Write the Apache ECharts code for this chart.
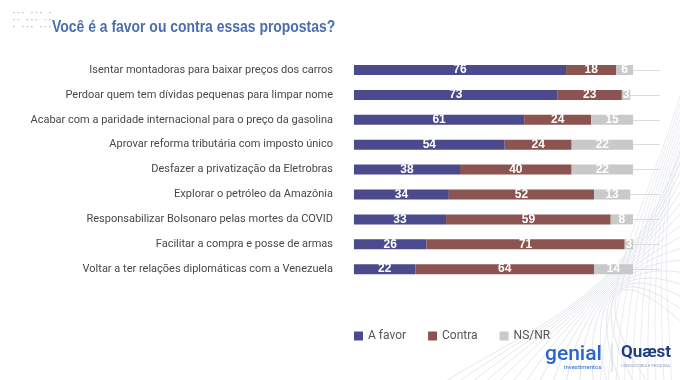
<!DOCTYPE html>
<html><head><meta charset="utf-8">
<script src="https://cdn.jsdelivr.net/npm/echarts@6/dist/echarts.min.js"></script>
<style>html,body{margin:0;padding:0;background:#fff}#c{width:680px;height:380px}</style>
</head><body><div id="c"></div>
<script>
const categories = [
  "Isentar montadoras para baixar preços dos carros",
  "Perdoar quem tem dívidas pequenas para limpar nome",
  "Acabar com a paridade internacional para o preço da gasolina",
  "Aprovar reforma tributária com imposto único",
  "Desfazer a privatização da Eletrobras",
  "Explorar o petróleo da Amazônia",
  "Responsabilizar Bolsonaro pelas mortes da COVID",
  "Facilitar a compra e posse de armas",
  "Voltar a ter relações diplomáticas com a Venezuela"
];
const aFavor = [76, 73, 61, 54, 38, 34, 33, 26, 22];
const contra = [18, 23, 24, 24, 40, 52, 59, 71, 64];
const nsnr   = [6, 3, 15, 22, 22, 13, 8, 3, 14];
const seriesNames = ["A favor", "Contra", "NS/NR"];
const colors = ["#4b4a8d", "#8b5450", "#c9c9c9"];
const titleText = 'Você é a favor ou contra essas propostas?';

const chart = echarts.init(document.getElementById('c'), null, {renderer: 'canvas'});
const lbl = {show: true, position: 'inside', color: '#fff', fontWeight: 'bold', fontSize: 12, fontFamily: '"Liberation Sans", Arial, sans-serif'};
const mk = (name, data, i) => ({
  name, type: 'bar', stack: 'total', data, barWidth: 10,
  itemStyle: {color: colors[i]}, label: lbl, emphasis: {disabled: true}
});

// decorative background curves (bottom right)
const deco = [];
for (let i = 0; i < 16; i++) {
  deco.push({
    type: 'bezierCurve', silent: true, z: -10,
    shape: {x1: 440 + i * 14, y1: 385, cpx1: 540 + i * 4, cpy1: 320, cpx2: 640 - i * 3, cpy2: 300 - i * 4, x2: 690, y2: 120 + i * 14},
    style: {stroke: '#d8dce4', lineWidth: 0.7, fill: null}
  });
}
for (let i = 0; i < 10; i++) {
  deco.push({
    type: 'bezierCurve', silent: true, z: -10,
    shape: {x1: 600 + i * 8, y1: 385, cpx1: 610 + i * 6, cpy1: 250, cpx2: 660, cpy2: 180, x2: 690, y2: 60 + i * 10},
    style: {stroke: '#dde0e7', lineWidth: 0.6, fill: null}
  });
}
// small top-left dotted logo
const dots = [];
const rows = [[13, 12], [13, 19], [13, 26]];
rows.forEach((r, ri) => {
  for (let k = 0; k < 9; k++) {
    if ((k + ri) % 4 === 3) continue;
    dots.push({type: 'rect', silent: true, shape: {x: r[0] + k * 4.5, y: r[1], width: 1.8, height: 1.2}, style: {fill: '#c3cad6'}});
  }
});

chart.setOption({
  animation: false,
  legend: {
    data: seriesNames, left: 349, top: 325, itemWidth: 9, itemHeight: 9, itemGap: 22,
    icon: 'rect', textStyle: {color: '#555', fontSize: 12, fontFamily: 'Roboto'}
  },
  grid: {left: 340, width: 307, top: 57.6, height: 224},
  xAxis: {type: 'value', min: -5, max: 105, show: false},
  yAxis: {
    type: 'category', data: categories, inverse: true,
    axisLine: {show: false},
    axisTick: {show: true, alignWithLabel: true, inside: true, length: 306, lineStyle: {color: '#dcdcdc'}},
    axisLabel: {color: '#484848', fontSize: 11, fontFamily: 'Roboto', margin: 7}
  },
  series: [mk(seriesNames[0], aFavor, 0), mk(seriesNames[1], contra, 1), mk(seriesNames[2], nsnr, 2)],
  graphic: deco.concat(dots).concat([
    {type: 'text', x: 52, y: 19, scaleX: 0.82, style: {text: titleText, fill: '#4a6db0', font: 'bold 17px "Liberation Sans", Arial, sans-serif'}},
    {type: 'text', left: 545, top: 344, style: {text: 'genial', fill: '#2a66c8', font: '500 21px Roboto'}},
    {type: 'text', left: 564, top: 364, style: {text: 'investimentos', fill: '#2a66c8', font: '6px Roboto'}},
    {type: 'line', shape: {x1: 612, y1: 344, x2: 612, y2: 372}, style: {stroke: '#ccd4e0', lineWidth: 1}},
    {type: 'text', left: 621, top: 344, style: {text: 'Quæst', fill: '#1f3d8a', font: 'bold 17px Roboto'}},
    {type: 'text', left: 621, top: 364, style: {text: 'CONSULTORIA E PESQUISA', fill: '#8898b8', font: '4px Roboto'}}
  ])
});
</script></body></html>
